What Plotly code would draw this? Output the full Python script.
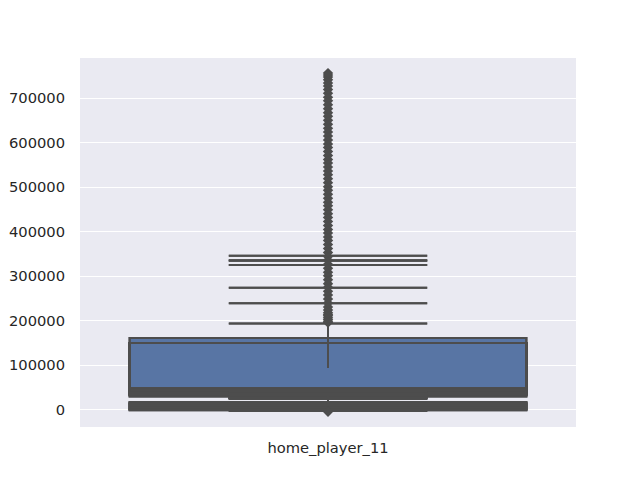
import plotly.graph_objects as go

category = "home_player_11"

# precomputed box statistics for the overlaid boxes (drawn in this order)
q1_vals     = [30000, 33000, 34000, 35000, 36000, 36000, 36000, -1000, 2000, 500]
median_vals = [49000, 45000, 42000, 40000, 38000, 37000, 37000, 8000, 5000, 11000]
q3_vals     = [161000, 150000, 150000, 150000, 150000, 150000, 150000, 17500, 15000, 14000]
lower_vals  = [26000, 26000, 26000, 26000, 26000, 26000, 26000, -1500, -1500, -1500]
upper_vals  = [346000, 335000, 335000, 325000, 274000, 239000, 194000, 40000, 36000, 33000]

inner_whisker = [94000, 155000]

upper_outliers = [196000, 199000, 203000, 207000, 211000, 214000, 218000, 224000, 231000,
                  240000, 249000, 258000, 266000, 275000, 283000, 292000, 301000, 309000,
                  318000, 327000, 336000, 344000, 353000, 362000, 371000, 380000, 388000,
                  397000, 405000, 414000, 423000, 432000, 440000, 449000, 458000, 466000,
                  475000, 484000, 493000, 501000, 510000, 519000, 528000, 536000, 545000,
                  554000, 562000, 571000, 580000, 589000, 597000, 606000, 615000, 624000,
                  632000, 641000, 650000, 659000, 667000, 676000, 685000, 694000, 702000,
                  711000, 719000, 727000, 734000, 741000, 747000, 752000, 756000]
lower_outliers = [-4500]

y_ticks = [0, 100000, 200000, 300000, 400000, 500000, 600000, 700000]

FILL = "#5875a4"
LINE = "#4d4d4d"
TEXT = "#262626"

fig = go.Figure()

for fill in (FILL, "rgba(0,0,0,0)"):
    for i in range(len(q1_vals)):
        fig.add_trace(go.Box(
            x=[category], q1=[q1_vals[i]], median=[median_vals[i]], q3=[q3_vals[i]],
            lowerfence=[lower_vals[i]], upperfence=[upper_vals[i]],
            width=0.8, whiskerwidth=0.5, boxpoints=False,
            fillcolor=fill, line=dict(color=LINE, width=2),
            showlegend=False, hoverinfo="skip",
        ))

fig.add_trace(go.Scatter(
    x=[category] * len(inner_whisker), y=inner_whisker, mode="lines",
    line=dict(color=LINE, width=2), showlegend=False, hoverinfo="skip",
))

outliers = upper_outliers + lower_outliers
fig.add_trace(go.Scatter(
    x=[category] * len(outliers), y=outliers, mode="markers",
    marker=dict(symbol="diamond", size=8, color=LINE, line=dict(width=0)),
    showlegend=False, hoverinfo="skip",
))

fig.update_layout(
    width=640, height=480,
    margin=dict(l=80, r=64, t=58, b=53),
    paper_bgcolor="white", plot_bgcolor="#eaeaf2",
    boxmode="overlay",
    font=dict(family="DejaVu Sans", size=14.7, color=TEXT),
    xaxis=dict(type="category", range=[-0.5, 0.5], showgrid=False, zeroline=False,
               automargin=False,
               ticks="outside", ticklen=7, tickcolor="rgba(0,0,0,0)", showline=False),
    yaxis=dict(range=[-38560, 789900], tickvals=y_ticks,
               ticktext=[str(v) for v in y_ticks], automargin=False,
               showgrid=True, gridcolor="white", gridwidth=1.2, zeroline=False,
               ticks="outside", ticklen=11, tickcolor="rgba(0,0,0,0)", showline=False),
)

fig.write_html("out.html")
